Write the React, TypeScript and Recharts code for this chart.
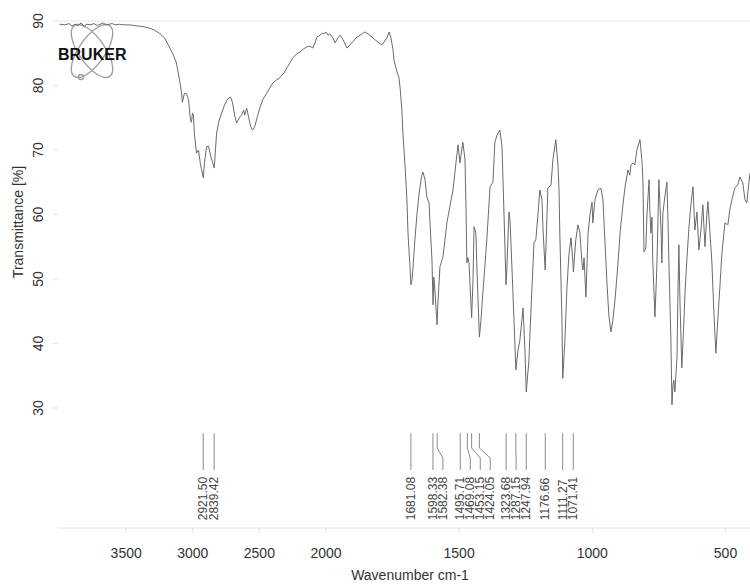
import { LineChart, Line, XAxis, YAxis, ReferenceLine, ReferenceDot } from 'recharts'

// [wavenumber cm-1, transmittance %]
const spectrum: [number, number][] = [
  [4000, 89.4], [3990, 89.5], [3959, 89.4], [3929, 89.6], [3907, 89.2], [3884, 89.5],
  [3861, 89.3], [3839, 89.7], [3816, 89.2], [3794, 89.5], [3771, 89.4], [3741, 89.6],
  [3718, 89.3], [3696, 89.5], [3673, 89.7], [3650, 89.4], [3628, 89.5], [3605, 89.6],
  [3583, 89.4], [3552, 89.5], [3515, 89.4], [3477, 89.4], [3439, 89.3], [3402, 89.2],
  [3364, 89.1], [3326, 88.9], [3289, 88.6], [3251, 88.1], [3213, 87.4], [3176, 86.0],
  [3145, 84.7], [3123, 83.5], [3100, 80.9], [3085, 79.0], [3078, 77.4], [3063, 78.8],
  [3047, 78.7], [3032, 77.8], [3017, 74.6], [3010, 74.3], [3002, 75.7], [2995, 75.4],
  [2987, 72.3], [2972, 69.5], [2957, 70.0], [2942, 67.7], [2921, 65.7], [2912, 68.0],
  [2897, 70.5], [2882, 70.6], [2867, 69.2], [2839, 67.2], [2821, 72.6], [2806, 74.3],
  [2784, 75.7], [2761, 77.0], [2739, 77.9], [2716, 78.2], [2701, 77.3], [2686, 75.4],
  [2671, 74.2], [2648, 75.1], [2633, 75.4], [2618, 76.2], [2610, 75.4], [2595, 76.5],
  [2580, 75.0], [2565, 73.6], [2550, 73.1], [2535, 73.6], [2512, 75.4], [2497, 76.5],
  [2475, 77.8], [2445, 78.8], [2422, 79.6], [2399, 80.4], [2369, 80.9], [2347, 81.2],
  [2317, 81.9], [2294, 82.7], [2271, 83.5], [2249, 84.3], [2219, 84.9], [2196, 85.2],
  [2166, 85.7], [2143, 86.0], [2121, 86.1], [2098, 85.8], [2083, 86.6], [2068, 87.5],
  [2045, 87.8], [2030, 88.1], [2015, 88.0], [2000, 88.3], [1992, 87.8], [1985, 88.0],
  [1974, 87.4], [1966, 86.6], [1955, 87.4], [1947, 87.8], [1936, 87.1], [1921, 85.8],
  [1910, 86.3], [1899, 86.8], [1887, 87.4], [1872, 87.8], [1854, 88.3], [1842, 88.0],
  [1827, 87.5], [1816, 87.1], [1801, 86.6], [1790, 86.3], [1779, 86.9], [1771, 87.4],
  [1763, 88.3], [1756, 87.4], [1748, 85.5], [1745, 84.0], [1733, 82.1], [1726, 81.2],
  [1722, 79.8], [1715, 76.2], [1711, 72.6], [1703, 67.4], [1696, 62.3], [1692, 57.1],
  [1685, 52.2], [1681, 49.1], [1677, 49.9], [1673, 51.9], [1666, 56.1], [1658, 60.2],
  [1651, 63.0], [1647, 64.3], [1640, 66.1], [1636, 66.6], [1628, 65.4], [1621, 62.7],
  [1613, 61.8], [1610, 59.2], [1602, 53.0], [1598, 46.0], [1595, 50.3], [1591, 48.3],
  [1583, 42.9], [1580, 46.0], [1572, 51.9], [1561, 53.4], [1553, 56.1], [1546, 58.7],
  [1535, 61.2], [1523, 63.8], [1512, 68.0], [1504, 70.8], [1497, 68.0], [1493, 69.2],
  [1486, 71.2], [1478, 68.5], [1474, 60.7], [1471, 52.5], [1467, 53.3], [1463, 52.5],
  [1453, 44.0], [1448, 49.9], [1444, 58.1], [1437, 57.1], [1433, 51.4], [1424, 41.0],
  [1418, 43.6], [1411, 47.8], [1403, 52.2], [1396, 56.1], [1384, 64.3], [1373, 65.0],
  [1366, 71.1], [1358, 72.3], [1347, 73.1], [1339, 70.5], [1332, 60.7], [1324, 49.1],
  [1321, 51.4], [1313, 60.4], [1309, 59.2], [1302, 52.0], [1294, 43.6], [1287, 35.9],
  [1279, 39.0], [1272, 40.5], [1260, 45.5], [1253, 39.0], [1248, 32.5], [1238, 37.4],
  [1234, 41.6], [1227, 48.3], [1219, 55.6], [1212, 56.1], [1204, 60.0], [1197, 63.8],
  [1189, 62.3], [1185, 57.6], [1177, 51.4], [1170, 59.9], [1167, 64.1], [1155, 64.6],
  [1148, 68.5], [1137, 71.6], [1129, 67.7], [1125, 63.8], [1122, 57.1], [1114, 43.6],
  [1111, 34.6], [1103, 40.5], [1095, 48.8], [1088, 53.7], [1080, 56.4], [1073, 52.6],
  [1071, 51.1], [1062, 56.1], [1054, 58.4], [1047, 57.3], [1039, 52.6], [1035, 51.4],
  [1031, 53.3], [1024, 47.2], [1016, 57.1], [1009, 59.9], [1001, 61.9], [998, 58.7],
  [990, 62.3], [979, 63.8], [968, 64.1], [960, 62.3], [953, 56.1], [945, 49.4],
  [938, 44.4], [930, 41.8], [923, 43.6], [915, 46.7], [904, 52.2], [896, 57.1],
  [885, 61.5], [877, 64.3], [866, 66.9], [859, 66.1], [855, 67.7], [848, 68.0],
  [840, 67.7], [833, 70.0], [821, 71.6], [814, 68.5], [810, 65.4], [806, 54.2],
  [799, 54.8], [795, 59.9], [787, 65.4], [784, 60.7], [780, 57.1], [776, 59.6],
  [773, 52.9], [765, 44.1], [758, 51.4], [750, 65.4], [742, 57.6], [739, 52.5],
  [735, 60.2], [727, 63.0], [720, 65.0], [716, 59.2], [712, 51.9], [705, 40.6],
  [701, 30.5], [697, 33.6], [694, 34.3], [690, 32.5], [682, 37.9], [679, 46.7],
  [675, 55.3], [671, 46.7], [664, 36.2], [656, 43.6], [652, 47.8], [645, 53.0],
  [637, 58.1], [630, 61.5], [622, 64.3], [615, 57.6], [607, 60.4], [600, 54.5],
  [592, 57.6], [585, 61.5], [577, 55.0], [570, 59.9], [566, 62.0], [559, 57.6],
  [551, 52.5], [544, 45.2], [536, 38.5], [529, 43.6], [521, 48.8], [514, 53.7],
  [502, 58.7], [491, 58.4], [484, 60.7], [476, 62.3], [465, 64.1], [454, 64.6],
  [446, 65.8], [435, 64.9], [427, 62.3], [420, 61.8], [412, 65.0], [408, 66.4],
]

// picked peaks (cm-1)
const peaks = [
  2921.5, 2839.42, 1681.08, 1598.33, 1582.38, 1495.71, 1469.08, 1453.15,
  1424.05, 1323.68, 1287.15, 1247.94, 1176.66, 1111.27, 1071.41,
]

const xTicks = [3500, 3000, 2500, 2000, 1500, 1000, 500]
const yTicks = [30, 40, 50, 60, 70, 80, 90]

const WN_MIN = 408
const WN_MAX = 4012
const T_MIN = 11.4
const T_MAX = 90

// above 2000 cm-1 the axis is drawn at half scale
const BREAK = 2000
const toU = (wn: number) => (wn <= BREAK ? wn : BREAK + (wn - BREAK) / 2)
const fromU = (u: number) => (u <= BREAK ? u : BREAK + (u - BREAK) * 2)

// leader line / label heights in transmittance units
const LEAD_TOP = 26.1
const LEAD_BEND_A = 23.8
const LEAD_BEND_B = 22.25
const LEAD_END = 20.4
const LABEL_BASE = 12.6
const LABEL_GAP = 37.5

const traceData = spectrum.map(([wn, t]) => ({ u: toU(wn), t }))

// spread labels so neighbours never overlap
const peakLayout = (() => {
  const out: { peak: number; u: number; labelU: number }[] = []
  peaks.forEach((p) => {
    const u = toU(p)
    const prev = out[out.length - 1]
    const labelU = prev ? Math.min(u, prev.labelU - LABEL_GAP) : u
    out.push({ peak: p, u, labelU })
  })
  return out
})()

const FONT = '"Liberation Sans", Arial, sans-serif'

function YTick({ x, y, payload }: any) {
  return (
    <text
      x={x}
      y={y}
      dy="0.35em"
      transform={`rotate(-90 ${x} ${y})`}
      textAnchor="middle"
      fontSize={14}
      fill="#333"
    >
      {payload.value}
    </text>
  )
}

function PeakText(text: string) {
  return (props: any) => {
    const { cx, cy } = props
    return (
      <text
        x={cx}
        y={cy}
        dy="0.35em"
        transform={`rotate(-90 ${cx} ${cy})`}
        textAnchor="start"
        fontSize={12}
        fill="#444"
      >
        {text}
      </text>
    )
  }
}

function Logo() {
  return (
    <svg
      width={750}
      height={586}
      style={{ position: 'absolute', left: 0, top: 0 }}
    >
      <g fill="none" stroke="#a0a0a0" strokeWidth={1.4}>
        <ellipse cx={92} cy={51} rx={13} ry={31} transform="rotate(35 92 51)" />
        <ellipse cx={92} cy={51} rx={13} ry={31} transform="rotate(-35 92 51)" />
        <circle cx={81} cy={77} r={2.5} />
      </g>
      <text
        x={58}
        y={59.5}
        fontFamily={FONT}
        fontWeight="bold"
        fontSize={16}
        fill="#111"
      >
        BRUKER
      </text>
    </svg>
  )
}

export default function App() {
  return (
    <div
      style={{
        position: 'absolute',
        left: 0,
        top: 0,
        width: 750,
        height: 586,
        overflow: 'hidden',
        background: '#fff',
        fontFamily: FONT,
      }}
    >
      <Logo />
      <div style={{ position: 'absolute', left: 0, top: 0 }}>
        <LineChart
          width={750}
          height={586}
          margin={{ top: 21, right: 0, bottom: 0, left: 0 }}
        >
          <XAxis
            type="number"
            dataKey="u"
            reversed
            domain={[toU(WN_MIN), toU(WN_MAX)]}
            allowDataOverflow
            ticks={xTicks.map(toU)}
            tickFormatter={(v: number) => String(Math.round(fromU(v)))}
            height={58}
            stroke="#e2e2e2"
            tickSize={5}
            tickMargin={15}
            tick={{ fontSize: 14, fill: '#333' }}
            label={{
              value: 'Wavenumber cm-1',
              content: (p: any) => (
                <text
                  x={p.viewBox.x + p.viewBox.width / 2 + 6}
                  y={p.viewBox.y + p.viewBox.height - 6}
                  textAnchor="middle"
                  fontSize={14}
                  fill="#333"
                >
                  Wavenumber cm-1
                </text>
              ),
            }}
          />
          <YAxis
            type="number"
            domain={[T_MIN, T_MAX]}
            allowDataOverflow
            ticks={yTicks}
            width={58}
            axisLine={false}
            tickLine={{ stroke: '#e2e2e2' }}
            tickSize={5}
            tickMargin={15}
            tick={<YTick />}
            label={{
              value: 'Transmittance [%]',
              content: (p: any) => {
                const x = p.viewBox.x + 18
                const y = p.viewBox.y + 201
                return (
                  <text
                    x={x}
                    y={y}
                    dy="0.35em"
                    transform={`rotate(-90 ${x} ${y})`}
                    textAnchor="middle"
                    fontSize={14}
                    fill="#333"
                  >
                    Transmittance [%]
                  </text>
                )
              },
            }}
          />
          <ReferenceLine y={T_MAX} stroke="#e8e8e8" />
          {peakLayout.map((pk) => (
            <Line
              key={`lead-${pk.peak}`}
              data={[
                { u: pk.u, t: LEAD_TOP },
                { u: pk.u, t: LEAD_BEND_A },
                { u: pk.labelU, t: LEAD_BEND_B },
                { u: pk.labelU, t: LEAD_END },
              ]}
              dataKey="t"
              type="linear"
              stroke="#8c8c8c"
              strokeWidth={1}
              dot={false}
              activeDot={false}
              isAnimationActive={false}
            />
          ))}
          {peakLayout.map((pk) => (
            <ReferenceDot
              key={`label-${pk.peak}`}
              x={pk.labelU}
              y={LABEL_BASE}
              r={0}
              shape={PeakText(pk.peak.toFixed(2))}
            />
          ))}
          <Line
            data={traceData}
            dataKey="t"
            type="linear"
            stroke="#6a6a6a"
            strokeWidth={1}
            dot={false}
            activeDot={false}
            isAnimationActive={false}
          />
        </LineChart>
      </div>
    </div>
  )
}
